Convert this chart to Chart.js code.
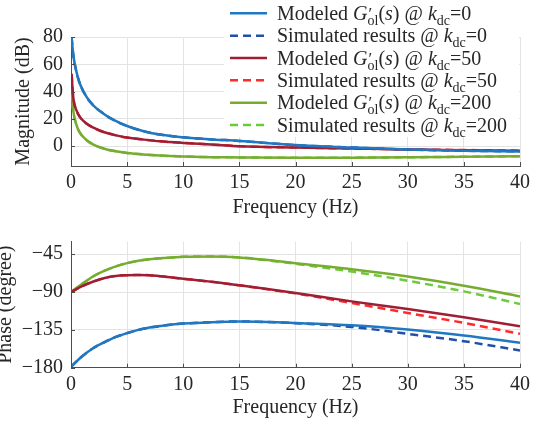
<!DOCTYPE html>
<html><head><meta charset="utf-8">
<script src="https://cdn.jsdelivr.net/npm/chart.js@4"></script>
<style>
html,body{margin:0;padding:0;background:#fff;}
#wrap{position:relative;width:544px;height:428px;overflow:hidden;background:#fff;}
#c1{position:absolute;left:0;top:0;}
#c2{position:absolute;left:0;top:220px;}
</style></head><body>
<div id="wrap">
<canvas id="c1" width="544" height="220"></canvas>
<canvas id="c2" width="544" height="208"></canvas>
</div>
<script>
// ---------- data ----------
const xTicks = [0, 5, 10, 15, 20, 25, 30, 35, 40];
const magTicks = [0, 20, 40, 60, 80];
const phaseTicks = [-180, -135, -90, -45];
const kdcValues = ['0', '50', '200'];

const freqMag = [0.05, 0.2, 0.5, 0.8, 1.4, 2, 2.9, 3.75, 5, 6.4, 7.9, 10, 12.5, 15, 20, 25, 30, 35, 40];
const magModel0   = [80, 67, 54, 45.6, 35.9, 29.8, 23.8, 19.4, 14.8, 11.1, 8.5, 6.5, 5.0, 3.9, 0.8, -1.0, -2.4, -3.3, -3.8];
const magSim0     = [80, 67, 54, 45.6, 35.9, 29.8, 23.8, 19.4, 14.8, 11.1, 8.5, 6.5, 5.0, 3.9, 0.8, -1.0, -2.4, -3.3, -3.8];
const magModel50  = [53, 35.9, 26, 21.3, 16.5, 13.6, 10.4, 8.5, 6.3, 4.9, 3.6, 2.4, 1.3, 0.0, -1.0, -1.7, -2.4, -2.9, -3.4];
const magSim50    = [53, 35.9, 26, 21.3, 16.5, 13.6, 10.4, 8.5, 6.3, 4.9, 3.6, 2.4, 1.3, 0.0, -1.0, -1.7, -2.4, -2.8, -3.3];
const magModel200 = [41, 26, 15.3, 9.7, 4.4, 1.2, -1.7, -3.4, -4.9, -6.0, -6.8, -7.5, -8.0, -8.2, -8.5, -8.4, -8.1, -7.7, -7.3];
const magSim200   = [41, 26, 15.3, 9.7, 4.4, 1.2, -1.7, -3.4, -4.9, -6.0, -6.8, -7.5, -8.0, -8.2, -8.5, -8.4, -8.1, -7.7, -7.3];

const freqPh = [0, 1, 2, 3, 4, 5, 6, 7, 8, 9, 10, 12.5, 15, 17.5, 20, 25, 30, 35, 40];
const phModel0   = [-179, -166.3, -156.5, -149.5, -143.3, -138.9, -135, -132.3, -130.3, -128.6, -127.5, -125.8, -125, -125.5, -126.7, -129.5, -134.6, -141.7, -150.4];
const phSim0     = [-179, -166.3, -156.5, -149.5, -143.3, -138.9, -135, -132.3, -130.3, -128.6, -127.5, -125.8, -125, -125.7, -127, -131.5, -139.7, -148.5, -159.5];
const phModel50  = [-90, -83, -77.5, -73.2, -70.8, -70, -69.7, -70, -71.2, -72.8, -74.3, -77.8, -82, -86.5, -91.2, -101.1, -110.1, -120, -130.7];
const phSim50    = [-90, -83, -77.5, -73.2, -70.8, -70, -69.7, -70, -71.2, -72.8, -74.3, -77.8, -82, -86.8, -91.6, -103, -114.9, -126.7, -139.7];
const phModel200 = [-90, -80.2, -71.2, -64.6, -59.5, -55.6, -52.8, -50.9, -49.7, -48.9, -48.1, -47.6, -48.8, -51.8, -55.7, -62.8, -71.5, -82.5, -95.2];
const phSim200   = [-90, -80.2, -71.2, -64.6, -59.5, -55.6, -52.8, -50.9, -49.7, -48.9, -48.1, -47.6, -48.8, -52.2, -56.5, -65.6, -76.6, -89.2, -104.2];

// ---------- styling ----------
const FAMILY = "'Liberation Serif', 'Times New Roman', serif";
const TXT = '#262626';
const GRID = '#e3e3e3';
const AX = '#4d4d4d';
const colors = {
  model0: '#1f78c1', sim0: '#2150a8',
  model50: '#9e1f35', sim50: '#ff2a2a',
  model200: '#77ac30', sim200: '#6ccb3c'
};
Chart.defaults.font.family = FAMILY;
Chart.defaults.font.size = 20;
Chart.defaults.color = TXT;
const F = (size, lh) => ({family: FAMILY, size: size, lineHeight: lh || 1.2});

const pts = (xs, ys) => xs.map((x, i) => ({x: x, y: ys[i]}));
const ds = (xs, ys, color, dashed) => ({
  data: pts(xs, ys), borderColor: color, backgroundColor: color,
  borderWidth: 2.5, borderDash: dashed ? [8, 5] : [], pointRadius: 0,
  cubicInterpolationMode: 'monotone', fill: false
});
const fmt = v => v < 0 ? '\u2212' + Math.abs(v) : String(v);

const inTicks = {
  id: 'inTicks',
  afterDraw(chart) {
    const {ctx, chartArea: a, scales} = chart;
    ctx.save(); ctx.strokeStyle = AX; ctx.lineWidth = 1;
    scales.x.ticks.forEach(t => {
      const px = Math.round(scales.x.getPixelForValue(t.value)) + 0.5;
      ctx.beginPath(); ctx.moveTo(px, a.bottom); ctx.lineTo(px, a.bottom - 4); ctx.stroke();
    });
    scales.y.ticks.forEach(t => {
      const py = Math.round(scales.y.getPixelForValue(t.value)) + 0.5;
      ctx.beginPath(); ctx.moveTo(a.left, py); ctx.lineTo(a.left + 4, py); ctx.stroke();
    });
    ctx.restore();
  }
};

function legendSegs(kind, k) {
  const tail = [{t: ' @ '}, {t: 'k', it: true}, {t: 'dc', sub: true}, {t: '=' + k}];
  if (kind === 'model') {
    return [{t: 'Modeled '}, {t: 'G', it: true}, {t: '\u2032', prime: true}, {t: 'ol', sub: true, afterPrime: true},
            {t: '('}, {t: 's', it: true}, {t: ')'}].concat(tail);
  }
  return [{t: 'Simulated results'}].concat(tail);
}

function drawRich(ctx, x, y, segs) {
  let primeW = 0;
  segs.forEach(s => {
    const size = s.sub ? 14 : (s.prime ? 17 : 20);
    ctx.font = (s.it ? 'italic ' : '') + size + 'px ' + FAMILY;
    const dy = s.sub ? 5 : (s.prime ? -1 : 0);
    const dx = s.prime ? 1 : 0;
    ctx.fillText(s.t, x + dx, y + dy);
    const w = ctx.measureText(s.t).width;
    if (s.prime) { primeW = w + dx; return; }
    if (s.afterPrime) { x += Math.max(w, primeW); return; }
    x += w;
  });
}

const legendPlugin = {
  id: 'richLegend',
  afterDraw(chart) {
    const ctx = chart.ctx;
    ctx.save();
    ctx.fillStyle = '#fff';
    ctx.fillRect(224, 0, 295, 137);
    const entries = [];
    kdcValues.forEach((k) => {
      entries.push({kind: 'model', k: k, color: colors['model' + k], dash: false});
      entries.push({kind: 'sim', k: k, color: colors['sim' + k], dash: true});
    });
    entries.forEach((e, i) => {
      const ly = 13.3 + i * 22.35;
      ctx.strokeStyle = e.color; ctx.lineWidth = 2.5;
      ctx.setLineDash(e.dash ? [8, 5] : []);
      ctx.beginPath(); ctx.moveTo(230, ly); ctx.lineTo(267, ly); ctx.stroke();
      ctx.setLineDash([]);
      ctx.fillStyle = TXT; ctx.textBaseline = 'alphabetic'; ctx.textAlign = 'left';
      drawRich(ctx, 277, ly + 6.5, legendSegs(e.kind, e.k));
    });
    ctx.restore();
  }
};

function xScale(h, tb) {
  return {
    type: 'linear', min: 0, max: 40,
    afterBuildTicks: s => { s.ticks = xTicks.map(v => ({value: v})); },
    afterFit: s => { s.height = h; },
    grid: {color: GRID, lineWidth: 1, drawTicks: false},
    border: {display: true, color: AX, width: 1},
    ticks: {padding: 5, maxRotation: 0, autoSkip: false, callback: fmt, font: F(20), color: TXT},
    title: {display: true, text: 'Frequency (Hz)', font: F(20, 1), color: TXT, padding: {top: 0, bottom: tb}}
  };
}
function yScale(min, max, tks, title, tpad) {
  return {
    type: 'linear', min: min, max: max,
    afterBuildTicks: s => { s.ticks = tks.map(v => ({value: v})); },
    afterFit: s => { s.width = 71; },
    grid: {color: GRID, lineWidth: 1, drawTicks: false},
    border: {display: true, color: AX, width: 1},
    ticks: {padding: 8, autoSkip: false, callback: fmt, font: F(20), color: TXT},
    title: {display: true, text: title, font: F(20, 1), color: TXT, padding: {top: tpad, bottom: 0}}
  };
}

const common = {
  responsive: false, animation: false, devicePixelRatio: 1,
  plugins: {legend: {display: false}, tooltip: {enabled: false}}
};

new Chart(document.getElementById('c1'), {
  type: 'line',
  data: {datasets: [
    ds(freqMag, magModel0, colors.model0, false),
    ds(freqMag, magSim0, colors.sim0, true),
    ds(freqMag, magModel50, colors.model50, false),
    ds(freqMag, magSim50, colors.sim50, true),
    ds(freqMag, magModel200, colors.model200, false),
    ds(freqMag, magSim200, colors.sim200, true)
  ]},
  options: Object.assign({}, common, {
    layout: {padding: {top: 37, right: 24, left: 0, bottom: 0}},
    scales: {x: xScale(54, 2), y: yScale(-14.5, 80, magTicks, 'Magnitude (dB)', 14)}
  }),
  plugins: [inTicks, legendPlugin]
});

new Chart(document.getElementById('c2'), {
  type: 'line',
  data: {datasets: [
    ds(freqPh, phModel0, colors.model0, false),
    ds(freqPh, phSim0, colors.sim0, true),
    ds(freqPh, phModel50, colors.model50, false),
    ds(freqPh, phSim50, colors.sim50, true),
    ds(freqPh, phModel200, colors.model200, false),
    ds(freqPh, phSim200, colors.sim200, true)
  ]},
  options: Object.assign({}, common, {
    layout: {padding: {top: 21.6, right: 24, left: 0, bottom: 0}},
    scales: {x: xScale(60.3, 10), y: yScale(-180, -30, phaseTicks, 'Phase (degree)', -4)}
  }),
  plugins: [inTicks]
});
</script>
</body></html>
